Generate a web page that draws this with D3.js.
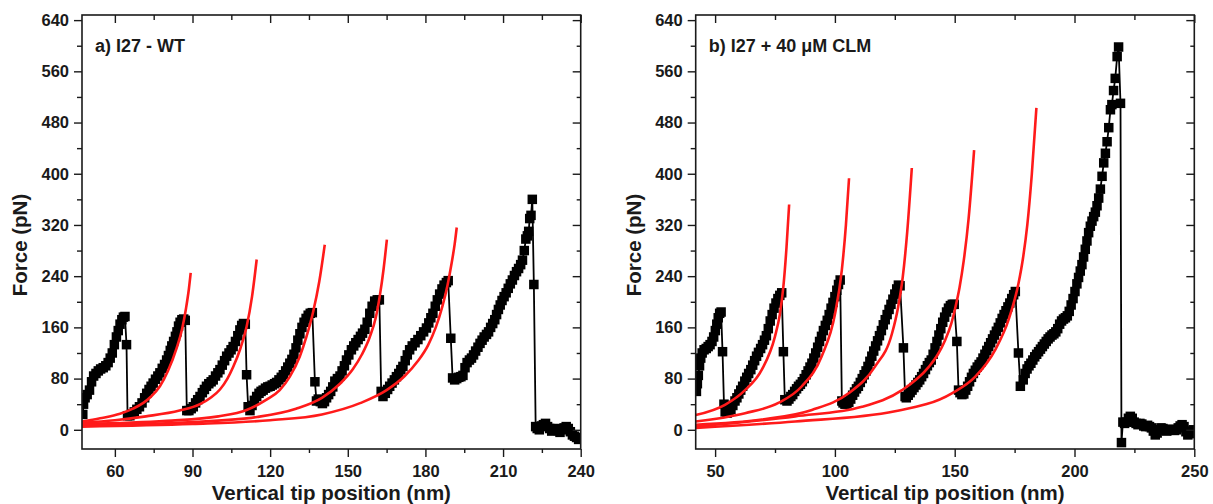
<!DOCTYPE html>
<html>
<head>
<meta charset="utf-8">
<script src="https://cdn.jsdelivr.net/npm/d3@7"></script>
<style>
  html, body { margin: 0; background: #fff; }
  svg { display: block; }
</style>
</head>
<body>
<svg id="chart" width="1213" height="504"></svg>
<script>
// force-extension traces: [tip position nm, force pN]
var wtTrace = [
  [47.6,24],[47.9,40],[48.5,50],[49.3,55],[50.2,62],[51,75],[51.8,84],[52.7,88],[53.6,92],[54.5,95],
  [55.5,97],[56.5,100],[57.4,105],[58.2,112],[59,120],[59.8,133],[60.6,145],[61.3,155],[62,165],[62.7,172],
  [63.3,176],[63.9,177],[64.5,133],[64.9,22],
  [65.8,22],[66.5,25],[67.5,28],[68.5,32],[69.5,36],[70.5,42],[71.5,50],[72.3,57],[73.2,63],[74,68],
  [74.8,73],[75.7,79],[76.6,84],[77.4,89],[78.3,96],[79.2,102],[80,109],[80.7,116],[81.4,124],[82,131],
  [82.7,138],[83.4,146],[84,153],[84.6,162],[85.2,168],[85.9,172],[86.6,173],[87.2,171],[87.8,30],
  [88.6,30],[89.5,33],[90.3,36],[91.2,42],[92,47],[92.9,52],[93.8,58],[94.6,63],[95.4,68],[96.3,72],
  [97.2,75],[98,78],[98.9,84],[99.8,89],[100.6,94],[101.5,101],[102.4,108],[103.2,115],[104.1,120],[104.9,125],
  [105.7,130],[106.6,138],[107.5,147],[108.3,156],[109,163],[109.7,166],[110.4,165],[110.9,86],[111.5,36],
  [112.2,30],[113,38],[113.9,46],[114.8,52],[115.7,57],[116.5,60],[117.3,62],[118.2,65],[119.1,67],[120,68],
  [120.8,70],[121.7,72],[122.5,74],[123.4,78],[124.3,82],[125.1,86],[126,92],[126.8,98],[127.6,104],[128.4,110],
  [129.2,118],[130,128],[130.7,140],[131.5,150],[132.3,160],[133.1,168],[133.9,174],[134.7,179],[135.5,182],[136.3,183],
  [137.3,75],[137.9,45],
  [138.6,48],[139.4,44],[140.2,41],[141,44],[141.8,50],[142.6,55],[143.4,60],[144.2,67],[145,76],[146,80],
  [147,84],[147.8,92],[148.7,100],[149.5,109],[150.4,117],[151.4,125],[152.3,131],[153.1,136],[154,141],[154.9,146],
  [155.7,151],[156.6,157],[157.5,168],[158.5,182],[159.4,193],[160.4,201],[161.4,203],[162.2,203],[162.9,60],
  [163.6,52],[164.5,57],[165.4,63],[166.2,68],[167.1,73],[168,78],[168.8,83],[169.7,88],[170.5,94],[171.3,99],
  [172.2,108],[173,117],[173.9,125],[174.9,131],[176,136],[177.1,141],[178.2,147],[179.3,153],[180.4,159],[181.3,167],
  [182.1,175],[182.9,182],[183.8,193],[184.6,203],[185.5,212],[186.4,220],[187.2,226],[188.1,230],[188.8,233],[189.8,143],
  [190.5,81],
  [191.3,78],[192.1,80],[192.9,82],[193.7,83],[194.5,85],[195.3,97],[196.1,105],[197,109],[197.8,112],[198.6,117],
  [199.4,123],[200.3,129],[201.1,135],[201.9,140],[202.7,145],[203.6,149],[204.4,153],[205.2,160],[206,166],[206.8,172],
  [207.5,180],[208.2,188],[208.9,195],[209.6,202],[210.4,208],[211.2,214],[212,221],[212.8,228],[213.6,234],[214.4,241],
  [215.2,247],[216,252],[216.8,258],[217.5,265],[218.2,280],[218.8,298],[219.4,303],[219.9,310],[220.3,330],[220.8,335],
  [221.3,360],[221.9,227],[222.6,5],
  [223.2,2],[224,0],[224.8,6],[225.6,8],[226.4,10],[227.2,5],[228,2],[228.8,-2],[229.6,0],[230.4,2],
  [231.2,-1],[232,-4],[232.8,0],[233.6,3],[234.4,5],[235.2,2],[236,-3],[236.8,-8],[237.6,-10],[238.4,-12],[239.2,-15]
];

// red worm-like-chain fits, WT
var wtFits = [
  [[47.3,13],[54.3,18],[62,25],[67,33],[71,42],[74,52],[77.4,68],[80.5,92],[83.9,128],[86,158],[87.5,190],[88.6,220],[89.3,245]],
  [[47.3,11],[60,15],[72,21],[85,30],[92.9,40],[97,50],[100.6,63],[103.5,80],[105.7,98],[108.5,127],[110.9,161],[113,208],[114.8,266]],
  [[47.3,9],[80,14],[100,21],[110.9,31],[118.6,47],[123.7,62],[127.6,83],[131.5,115],[134,145],[136.6,184],[139,232],[141.1,289]],
  [[47.3,7],[90,12],[115,20],[130,33],[140,50],[147,72],[152,95],[155.5,118],[158.5,145],[160.8,175],[162.4,210],[163.8,250],[165.1,297]],
  [[47.3,5],[90,9],[120,15],[140,24],[155,42],[165,62],[172,84],[177,107],[181,132],[184,160],[186.5,192],[188.5,225],[190.2,262],[191.3,290],[192.1,316]]
];

var clmTrace = [
  [42.2,60],[42.6,72],[43,85],[43.5,100],[44,112],[44.6,120],[45.4,125],[46.3,127],[47.1,130],[47.9,133],
  [48.7,138],[49.4,145],[50.1,155],[50.7,165],[51.3,175],[51.9,182],[52.5,184],[53.1,122],[53.7,40],
  [54.2,28],[55,26],[55.8,28],[56.6,32],[57.4,38],[58.3,45],[59.1,50],[59.9,56],[60.7,62],[61.5,68],
  [62.4,76],[63.2,82],[64,88],[64.9,94],[65.7,101],[66.5,108],[67.3,115],[68.1,121],[69,127],[69.8,133],
  [70.6,140],[71.4,147],[72.2,158],[73,170],[73.8,180],[74.6,190],[75.4,198],[76.2,205],[77,210],[77.8,214],
  [78.5,122],[79.1,47],
  [80,45],[80.8,48],[81.6,52],[82.4,55],[83.2,60],[84,64],[84.8,68],[85.6,71],[86.4,75],[87.2,80],
  [88,86],[88.8,92],[89.6,98],[90.4,104],[91.2,112],[92,120],[92.8,129],[93.6,138],[94.4,146],[95.2,155],
  [96,163],[96.8,171],[97.6,180],[98.4,190],[99.2,199],[100,208],[100.8,218],[101.5,227],[102.2,234],[102.9,45],
  [103.4,42],[104.2,40],[105,41],[105.8,43],[106.6,48],[107.4,54],[108.2,59],[109,64],[109.8,68],[110.6,74],
  [111.4,80],[112.2,86],[113,92],[113.8,99],[114.6,107],[115.4,115],[116.2,123],[117,131],[117.8,139],[118.6,147],
  [119.4,155],[120.2,164],[121,172],[121.8,180],[122.6,188],[123.4,196],[124.2,204],[125,212],[125.8,220],[126.5,226],
  [127.2,225],[128.6,128],[129.3,52],
  [129.8,50],[130.6,54],[131.4,58],[132.2,62],[133,66],[133.8,70],[134.6,74],[135.4,78],[136.2,83],[137,88],
  [137.8,94],[138.6,100],[139.4,105],[140.2,109],[141,118],[141.8,128],[142.6,138],[143.4,148],[144.2,158],[145,168],
  [145.8,176],[146.6,184],[147.4,190],[148.2,194],[149,196],[149.8,196],[150.9,138],[151.6,62],
  [152.2,58],[153,55],[153.8,56],[154.6,62],[155.4,68],[156.2,75],[157,82],[157.8,88],[158.6,93],[159.4,98],
  [160.2,102],[161,106],[161.8,112],[162.6,118],[163.4,124],[164.2,130],[165,136],[165.8,142],[166.6,148],[167.4,154],
  [168.2,160],[169,167],[169.8,174],[170.6,180],[171.4,186],[172.2,192],[173,198],[173.8,205],[174.6,211],[175.3,216],
  [176.6,120],[177.4,68],
  [178.6,78],[179.4,88],[180.2,95],[181,100],[181.8,104],[182.6,109],[183.4,114],[184.2,118],[185,122],[185.8,126],
  [186.6,130],[187.4,134],[188.2,138],[189,142],[189.8,145],[190.6,148],[191.4,150],[192.2,153],[193,158],[193.8,165],
  [194.6,170],[195.4,173],[196.2,175],[197,178],[197.8,185],[198.6,195],[199.4,205],[200.2,216],[201,228],[201.7,238],
  [202.4,248],[203.1,258],[203.8,270],[204.5,282],[205.2,295],[205.9,308],[206.6,318],[207.3,326],[208,333],[208.7,340],
  [209.4,350],[210.1,362],[210.8,376],[211.5,396],[212.2,417],[212.9,432],[213.6,450],[214.3,472],[215,500],[215.6,508],
  [216.3,530],[217,549],[217.8,583],[218.4,598],[219.2,510],[219.6,-20],[220.2,12],
  [220.9,10],[221.7,12],[222.5,18],[223.3,21],[224.1,18],[224.9,12],[225.7,10],[226.5,8],[227.3,10],[228.1,9],
  [228.9,6],[229.7,5],[230.5,7],[231.3,5],[232.1,3],[232.9,-2],[233.7,-8],[234.5,-5],[235.3,0],[236.1,3],
  [236.9,2],[237.7,0],[238.5,-2],[239.3,0],[240.1,1],[240.9,0],[241.7,-1],[242.5,0],[243.3,3],[244.1,6],
  [244.9,8],[245.7,5],[246.5,-3],[247.3,-8],[248.1,-6],[248.9,-2],[249.6,0]
];

// red worm-like-chain fits, + CLM
var clmFits = [
  [[41.9,23],[54.1,39],[62.5,62],[69.5,94],[75,146],[77,180],[78.5,224],[79.8,285],[80.9,352]],
  [[41.9,13],[62.5,26],[76.4,42],[86.2,68],[94.5,115],[100.1,182],[102.9,250],[104.6,320],[105.9,393]],
  [[41.9,8],[69.5,16],[90.4,31],[105.7,57],[116.8,99],[123.8,150],[126.3,190],[128.3,238],[130.2,310],[132.1,409]],
  [[41.9,5],[83.4,21],[111.3,36],[128,62],[139.1,98],[143,118],[146,140],[148.5,165],[150.2,190],[152,222],[153.8,265],[155.8,330],[158.1,437]],
  [[41.9,3],[83.4,13],[125.1,29],[148.8,57],[158.6,83],[166.9,125],[172.5,172],[176.7,230],[178.5,268],[180.3,320],[182.2,400],[184.1,503]]
];

var forceTicks = [0, 80, 160, 240, 320, 400, 480, 560, 640];
var forceMinor = [40, 120, 200, 280, 360, 440, 520, 600];
var wtTicks = [60, 90, 120, 150, 180, 210, 240];
var wtMinor = [75, 105, 135, 165, 195, 225];
var clmTicks = [50, 100, 150, 200, 250];
var clmMinor = [75, 125, 175, 225];
var wtDomain = [47.3, 240], clmDomain = [41.9, 250], forceDomain = [-30, 648];

(function () {
  "use strict";
  var svg = d3.select("#chart");
  var FONT = "'Liberation Sans', Arial, sans-serif", INK = "#1a1a1a", RED = "#ff1a1a";
  var top = 15, bottom = 449;

  function panel(p) {
    var x = d3.scaleLinear().domain(p.xDomain).range([p.left, p.right]);
    var y = d3.scaleLinear().domain(forceDomain).range([bottom, top]);
    var clipId = "clip-" + p.id;
    svg.append("clipPath").attr("id", clipId).append("rect")
      .attr("x", p.left).attr("y", top).attr("width", p.right - p.left).attr("height", bottom - top);
    var g = svg.append("g");
    var plot = g.append("g").attr("clip-path", "url(#" + clipId + ")");

    // measured trace: connecting line + square markers
    var line = d3.line().x(function (d) { return x(d[0]); }).y(function (d) { return y(d[1]); });
    plot.append("path").attr("d", line(p.trace)).attr("fill", "none").attr("stroke", "#000").attr("stroke-width", 1.8);
    var S = 9.5;
    plot.selectAll("rect.pt").data(p.trace).enter().append("rect").attr("class", "pt")
      .attr("x", function (d) { return x(d[0]) - S / 2; }).attr("y", function (d) { return y(d[1]) - S / 2; })
      .attr("width", S).attr("height", S).attr("fill", "#000");

    // WLC fits
    var fit = d3.line().x(function (d) { return x(d[0]); }).y(function (d) { return y(d[1]); }).curve(d3.curveMonotoneX);
    p.fits.forEach(function (f) {
      plot.append("path").attr("d", fit(f)).attr("fill", "none").attr("stroke", RED).attr("stroke-width", 2.6);
    });

    // axes: bottom/left outward, top/right inward, minor ticks shorter
    function ax(gen, at, vals, size, labels) {
      var a = gen.tickValues(vals).tickSize(size).tickSizeOuter(0);
      if (!labels) { a.tickFormat(""); }
      var s = g.append("g").attr("transform", at).call(a);
      s.select(".domain").remove();
      s.selectAll("line").attr("stroke", INK).attr("stroke-width", 1.4);
      s.selectAll("text").attr("font-family", FONT).attr("font-weight", "bold").attr("font-size", 16.5).attr("fill", INK);
      return s;
    }
    var xb = ax(d3.axisBottom(x), "translate(0," + bottom + ")", p.xTicks, 8, true);
    xb.selectAll("text").attr("dy", "1.02em");
    ax(d3.axisBottom(x), "translate(0," + bottom + ")", p.xMinor, 4, false);
    ax(d3.axisTop(x), "translate(0," + top + ")", p.xTicks, -8, false);
    ax(d3.axisTop(x), "translate(0," + top + ")", p.xMinor, -5, false);
    var yl = ax(d3.axisLeft(y), "translate(" + p.left + ",0)", forceTicks, 8, true);
    yl.selectAll("text").attr("x", -13);
    ax(d3.axisLeft(y), "translate(" + p.left + ",0)", forceMinor, 5, false);
    ax(d3.axisRight(y), "translate(" + p.right + ",0)", forceTicks, -8, false);
    ax(d3.axisRight(y), "translate(" + p.right + ",0)", forceMinor, -4, false);

    g.append("rect").attr("x", p.left).attr("y", top).attr("width", p.right - p.left).attr("height", bottom - top)
      .attr("fill", "none").attr("stroke", INK).attr("stroke-width", 1.6);

    // titles
    g.append("text").attr("x", (p.left + p.right) / 2).attr("y", 500).attr("text-anchor", "middle")
      .attr("font-family", FONT).attr("font-weight", "bold").attr("font-size", 20.5).attr("fill", INK)
      .text("Vertical tip position (nm)");
    g.append("text").attr("transform", "translate(" + (p.left - 55) + ",245) rotate(-90)")
      .attr("text-anchor", "middle").attr("font-family", FONT).attr("font-weight", "bold").attr("font-size", 20.5)
      .attr("fill", INK).text("Force (pN)");
    g.append("text").attr("x", p.left + 13).attr("y", 52).attr("font-family", FONT).attr("font-weight", "bold")
      .attr("font-size", 18).attr("fill", INK).text(p.title);
  }

  panel({ id: "wt", left: 82, right: 580.7, xDomain: wtDomain, xTicks: wtTicks, xMinor: wtMinor,
          trace: wtTrace, fits: wtFits, title: "a) I27 - WT" });
  panel({ id: "clm", left: 695.7, right: 1194.3, xDomain: clmDomain, xTicks: clmTicks, xMinor: clmMinor,
          trace: clmTrace, fits: clmFits, title: "b) I27 + 40 \u03bcM CLM" });
})();
</script>
</body>
</html>
